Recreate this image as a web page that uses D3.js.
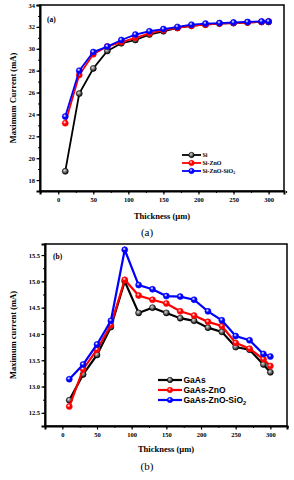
<!DOCTYPE html>
<html lang="en">
<head>
<meta charset="UTF-8">
<title>Maximum current vs thickness</title>
<script src="https://d3js.org/d3.v7.min.js"></script>
<style>
  body { margin: 0; background: #fff; }
  svg { display: block; }
  .tick text { font-family: "Liberation Serif", serif; font-weight: bold; font-size: 6.5px; }
  .axis-title { font-family: "Liberation Serif", serif; font-weight: bold; font-size: 8.5px; }
  .caption { font-family: "Liberation Serif", serif; font-size: 11px; }
</style>
</head>
<body>
<svg width="294" height="480"></svg>
<script>
// thickness values (µm)
const thickness = [10, 30, 50, 70, 90, 110, 130, 150, 170, 190, 210, 230, 250, 270, 290, 300];

// panel (a) Si cells
const si        = [18.8, 25.9, 28.2, 29.8, 30.5, 30.8, 31.3, 31.6, 31.9, 32.1, 32.2, 32.3, 32.35, 32.4, 32.45, 32.45];
const siZnO     = [23.2, 27.6, 29.5, 30.2, 30.6, 31.0, 31.4, 31.7, 31.9, 32.1, 32.2, 32.3, 32.35, 32.4, 32.45, 32.5];
const siZnOSiO2 = [23.8, 28.0, 29.7, 30.2, 30.8, 31.3, 31.6, 31.8, 32.0, 32.2, 32.3, 32.35, 32.4, 32.45, 32.5, 32.5];

// panel (b) GaAs cells
const gaas        = [12.74, 13.23, 13.6, 14.13, 15.0, 14.4, 14.5, 14.4, 14.3, 14.25, 14.12, 14.04, 13.75, 13.7, 13.42, 13.27];
const gaasZnO     = [12.62, 13.33, 13.7, 14.17, 15.03, 14.73, 14.65, 14.58, 14.43, 14.35, 14.23, 14.15, 13.83, 13.72, 13.52, 13.39];
const gaasZnOSiO2 = [13.14, 13.42, 13.8, 14.25, 15.6, 14.93, 14.85, 14.72, 14.71, 14.65, 14.43, 14.26, 13.96, 13.88, 13.62, 13.57];

const xTicks = [0, 50, 100, 150, 200, 250, 300];
const yTicksA = [18, 20, 22, 24, 26, 28, 30, 32, 34];
const yTicksB = [12.5, 13.0, 13.5, 14.0, 14.5, 15.0, 15.5];

const colors = ["#000000", "#ff0000", "#0000ff"];

const svg = d3.select("svg");

// sphere-looking markers
const defs = svg.append("defs");
colors.forEach((c, i) => {
    const g = defs.append("radialGradient")
        .attr("id", "ball" + i)
        .attr("cx", "40%").attr("cy", "35%").attr("r", "65%");
    g.append("stop").attr("offset", "0%").attr("stop-color", i === 0 ? "#e0e0e0" : "#ffffff");
    g.append("stop").attr("offset", "45%").attr("stop-color", i === 0 ? "#777" : c);
    g.append("stop").attr("offset", "100%").attr("stop-color", i === 0 ? "#000" : c);
});

function panel(cfg) {
    const x = d3.scaleLinear().domain(cfg.xDomain).range([cfg.left, cfg.right]);
    const y = d3.scaleLinear().domain(cfg.yDomain).range([cfg.bottom, cfg.top]);

    // frame
    svg.append("rect")
        .attr("x", cfg.left).attr("y", cfg.top)
        .attr("width", cfg.right - cfg.left).attr("height", cfg.bottom - cfg.top)
        .attr("fill", "none").attr("stroke", "#000").attr("stroke-width", 1.5);

    // minor ticks
    svg.append("g")
        .attr("transform", `translate(0,${cfg.bottom})`)
        .call(d3.axisBottom(x).tickValues(d3.range(-25, 326, 25)).tickSize(2).tickFormat(""))
        .call(g => g.select(".domain").remove());
    svg.append("g")
        .attr("transform", `translate(${cfg.left},0)`)
        .call(d3.axisLeft(y).tickValues(cfg.yMinor).tickSize(2).tickFormat(""))
        .call(g => g.select(".domain").remove());

    // major ticks
    const xa = svg.append("g")
        .attr("transform", `translate(0,${cfg.bottom})`)
        .call(d3.axisBottom(x).tickValues(xTicks).tickSize(3.5).tickPadding(2.5));
    const ya = svg.append("g")
        .attr("transform", `translate(${cfg.left},0)`)
        .call(d3.axisLeft(y).tickValues(cfg.yTicks).tickSize(3.5).tickPadding(1.5).tickFormat(cfg.yFormat));
    [xa, ya].forEach(a => {
        a.select(".domain").attr("stroke-width", 2);
        a.selectAll(".tick line").attr("stroke-width", 1.2);
    });
    svg.selectAll(".tick line").filter(function() { return !this.getAttribute("stroke-width"); })
        .attr("stroke-width", 1);

    // series
    const line = d3.line().x((d, i) => x(thickness[i])).y(d => y(d));
    cfg.series.forEach((s, k) => {
        svg.append("path")
            .datum(s.values)
            .attr("fill", "none")
            .attr("stroke", colors[k])
            .attr("stroke-width", cfg.lineWidth)
            .attr("d", line);
        svg.append("g").selectAll("circle")
            .data(s.values)
            .join("circle")
            .attr("cx", (d, i) => x(thickness[i]))
            .attr("cy", d => y(d))
            .attr("r", cfg.r)
            .attr("fill", `url(#ball${k})`)
            .attr("stroke", colors[k])
            .attr("stroke-width", 0.6);
    });

    // legend
    cfg.series.forEach((s, k) => {
        const ly = cfg.legend.y + k * cfg.legend.dy;
        svg.append("line")
            .attr("x1", cfg.legend.x).attr("x2", cfg.legend.x + cfg.legend.w)
            .attr("y1", ly).attr("y2", ly)
            .attr("stroke", colors[k]).attr("stroke-width", cfg.lineWidth);
        svg.append("circle")
            .attr("cx", cfg.legend.x + cfg.legend.w / 2).attr("cy", ly)
            .attr("r", cfg.r * 0.9)
            .attr("fill", `url(#ball${k})`).attr("stroke", colors[k]).attr("stroke-width", 0.6);
        const t = svg.append("text")
            .attr("x", cfg.legend.x + cfg.legend.w + 1.5).attr("y", ly)
            .attr("dy", "0.35em")
            .attr("font-family", cfg.legend.font)
            .attr("font-weight", "bold")
            .attr("font-size", cfg.legend.size);
        s.label.forEach(p => {
            const ts = t.append("tspan").text(p.t);
            if (p.sub) ts.attr("font-size", cfg.legend.size * 0.65).attr("dy", "0.3em");
        });
    });

    // panel tag
    svg.append("text")
        .attr("x", cfg.tag.x).attr("y", cfg.tag.y)
        .attr("font-family", "Liberation Serif, serif").attr("font-weight", "bold")
        .attr("font-size", 7.5)
        .text(cfg.tag.text);

    // axis titles
    svg.append("text").attr("class", "axis-title")
        .attr("x", (cfg.left + cfg.right) / 2).attr("y", cfg.xTitleY)
        .attr("text-anchor", "middle")
        .text("Thickness (\u00b5m)");
    svg.append("text").attr("class", "axis-title")
        .attr("transform", `translate(${cfg.yTitleX},${(cfg.top + cfg.bottom) / 2}) rotate(-90)`)
        .attr("text-anchor", "middle")
        .text(cfg.yTitle);

    // caption
    svg.append("text").attr("class", "caption")
        .attr("x", 147).attr("y", cfg.captionY)
        .attr("text-anchor", "middle")
        .text(cfg.caption);
}

panel({
    left: 40, right: 284, top: 5, bottom: 191,
    xDomain: [-26, 322], yDomain: [17, 34],
    yTicks: yTicksA, yMinor: d3.range(17, 34.1, 1), yFormat: d3.format("d"),
    lineWidth: 1.8, r: 3,
    series: [
        { values: si, label: [{ t: "Si" }] },
        { values: siZnO, label: [{ t: "Si-ZnO" }] },
        { values: siZnOSiO2, label: [{ t: "Si-ZnO-SiO" }, { t: "2", sub: true }] }
    ],
    legend: { x: 182, y: 155, dy: 8, w: 19, font: "Liberation Serif, serif", size: 6 },
    tag: { x: 47, y: 22, text: "(a)" },
    xTitleY: 219, yTitleX: 16, yTitle: "Maximum Current (mA)",
    captionY: 236, caption: "(a)"
});

panel({
    left: 45, right: 287, top: 244, bottom: 426,
    xDomain: [-25, 324], yDomain: [12.25, 15.71],
    yTicks: yTicksB, yMinor: d3.range(12.25, 15.71, 0.25), yFormat: d3.format(".1f"),
    lineWidth: 2.2, r: 3,
    series: [
        { values: gaas, label: [{ t: "GaAs" }] },
        { values: gaasZnO, label: [{ t: "GaAs-ZnO" }] },
        { values: gaasZnOSiO2, label: [{ t: "GaAs-ZnO-SiO" }, { t: "2", sub: true }] }
    ],
    legend: { x: 158, y: 380, dy: 10, w: 24, font: "Liberation Sans, Arial, sans-serif", size: 8.5 },
    tag: { x: 53, y: 259, text: "(b)" },
    xTitleY: 452, yTitleX: 16, yTitle: "Maximum current (mA)",
    captionY: 470, caption: "(b)"
});
</script>
</body>
</html>
